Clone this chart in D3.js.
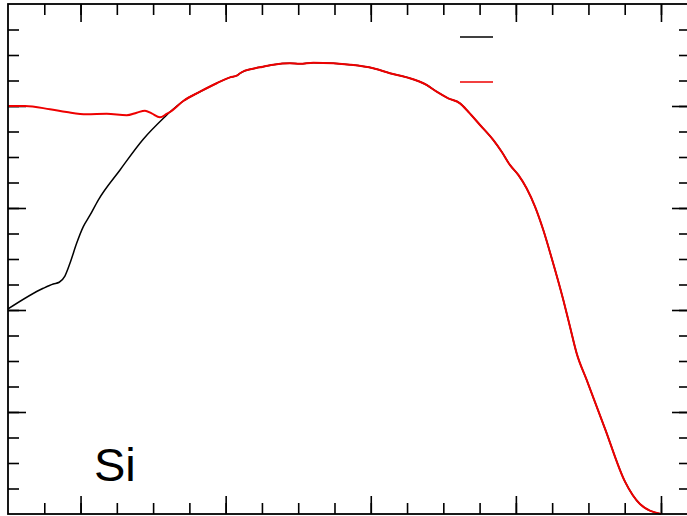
<!DOCTYPE html>
<html>
<head>
<meta charset="utf-8">
<script src="https://cdn.jsdelivr.net/npm/d3@7"></script>
<style>
  body { margin: 0; background: #fff; }
  svg { display: block; }
</style>
</head>
<body>
<div id="graph"></div>
<script>
// curve values (arbitrary units)
// black curve, part before it joins the red one
var blackX = [-0.50, -0.257, -0.188, -0.147, -0.108, -0.073, -0.027, 0.019, 0.065, 0.122, 0.272, 0.432, 0.582];
var blackY = [2.01, 2.213, 2.255, 2.272, 2.333, 2.458, 2.654, 2.817, 2.929, 3.078, 3.373, 3.674, 3.895];

// red curve, part before it joins the black one
var redX = [-0.50, -0.383, -0.211, -0.096, 0.042, 0.180, 0.318, 0.387, 0.444, 0.490, 0.547, 0.593];
var redY = [4.00, 4.00, 3.968, 3.941, 3.919, 3.924, 3.909, 3.934, 3.954, 3.928, 3.889, 3.922];

// shared part of both curves
var tailX = [0.616, 0.708, 0.823, 0.938, 1.030, 1.080, 1.099, 1.133, 1.236, 1.328, 1.443, 1.512, 1.604, 1.742,
  1.857, 2.017, 2.132, 2.247, 2.385, 2.454, 2.534, 2.615, 2.672, 2.753, 2.844, 2.902, 2.959, 3.017, 3.074,
  3.132, 3.189, 3.247, 3.327, 3.373, 3.419, 3.488, 3.614, 3.752, 3.855, 4.00];
var tailY = [3.941, 4.049, 4.140, 4.223, 4.281, 4.301, 4.321, 4.346, 4.379, 4.405, 4.419, 4.415, 4.425, 4.419,
  4.405, 4.370, 4.321, 4.281, 4.206, 4.140, 4.075, 4.026, 3.944, 3.814, 3.667, 3.552, 3.422, 3.324, 3.193,
  3.013, 2.784, 2.507, 2.098, 1.836, 1.575, 1.314, 0.837, 0.317, 0.098, 0.00];

var xMajor = [0, 1, 2, 3, 4];
var xMinor = d3.range(-0.25, 4.2, 0.25);
var yMajor = [1, 2, 3, 4];
var yMinor = d3.range(0.25, 5, 0.25);

var label = "Si";

var width = 687, height = 516;
var frame = {left: 8, top: 4, right: 690, bottom: 514};

function pairs(xs, ys) {
  return xs.map(function(v, i) { return [v, ys[i]]; });
}

(function makePlot() {
  var svg = d3.select('#graph').append('svg')
    .attr('width', width)
    .attr('height', height);

  var x = d3.scaleLinear().domain([-0.5, 4.2]).range([frame.left, frame.right]);
  var y = d3.scaleLinear().domain([0, 5]).range([frame.bottom, frame.top]);

  // ticks on all four sides, pointing inward
  function ticks(axisFn, pos, vals, size) {
    var g = svg.append('g')
      .attr('transform', pos)
      .call(axisFn.tickValues(vals).tickSize(size).tickFormat(''));
    g.select('.domain').remove();
    g.selectAll('line').attr('stroke', '#000').attr('stroke-width', 1.6);
  }
  ticks(d3.axisBottom(x), 'translate(0,' + frame.bottom + ')', xMinor, -11);
  ticks(d3.axisBottom(x), 'translate(0,' + frame.bottom + ')', xMajor, -18);
  ticks(d3.axisTop(x), 'translate(0,' + frame.top + ')', xMinor, -11);
  ticks(d3.axisTop(x), 'translate(0,' + frame.top + ')', xMajor, -18);
  ticks(d3.axisLeft(y), 'translate(' + frame.left + ',0)', yMinor, -11);
  ticks(d3.axisLeft(y), 'translate(' + frame.left + ',0)', yMajor, -18);
  ticks(d3.axisRight(y), 'translate(' + frame.right + ',0)', yMinor, -11);
  ticks(d3.axisRight(y), 'translate(' + frame.right + ',0)', yMajor, -18);

  var line = d3.line()
    .x(function(d) { return x(d[0]); })
    .y(function(d) { return y(d[1]); })
    .curve(d3.curveMonotoneX);

  var tail = pairs(tailX, tailY);

  svg.append('path')
    .datum(pairs(blackX, blackY).concat(tail))
    .attr('fill', 'none')
    .attr('stroke', '#000')
    .attr('stroke-width', 1.5)
    .attr('stroke-linejoin', 'round')
    .attr('d', line);

  svg.append('path')
    .datum(pairs(redX, redY).concat(tail))
    .attr('fill', 'none')
    .attr('stroke', '#ee0000')
    .attr('stroke-width', 2)
    .attr('stroke-linejoin', 'round')
    .attr('d', line);

  // legend keys (labels are blank in the original)
  var legend = svg.append('g').attr('transform', 'translate(460,37)');
  legend.append('line').attr('x1', 0).attr('x2', 33).attr('y1', 0).attr('y2', 0)
    .attr('stroke', '#000').attr('stroke-width', 1.5);
  legend.append('line').attr('x1', 0).attr('x2', 33).attr('y1', 45).attr('y2', 45)
    .attr('stroke', '#ee0000').attr('stroke-width', 1.5);

  svg.append('text')
    .attr('x', 94)
    .attr('y', 481)
    .attr('font-family', '"Liberation Sans", Arial, sans-serif')
    .attr('font-size', 47)
    .attr('fill', '#000')
    .text(label);

  // frame
  svg.append('rect')
    .attr('x', frame.left)
    .attr('y', frame.top)
    .attr('width', frame.right - frame.left)
    .attr('height', frame.bottom - frame.top)
    .attr('fill', 'none')
    .attr('stroke', '#000')
    .attr('stroke-width', 1.8);
})();
</script>
</body>
</html>
